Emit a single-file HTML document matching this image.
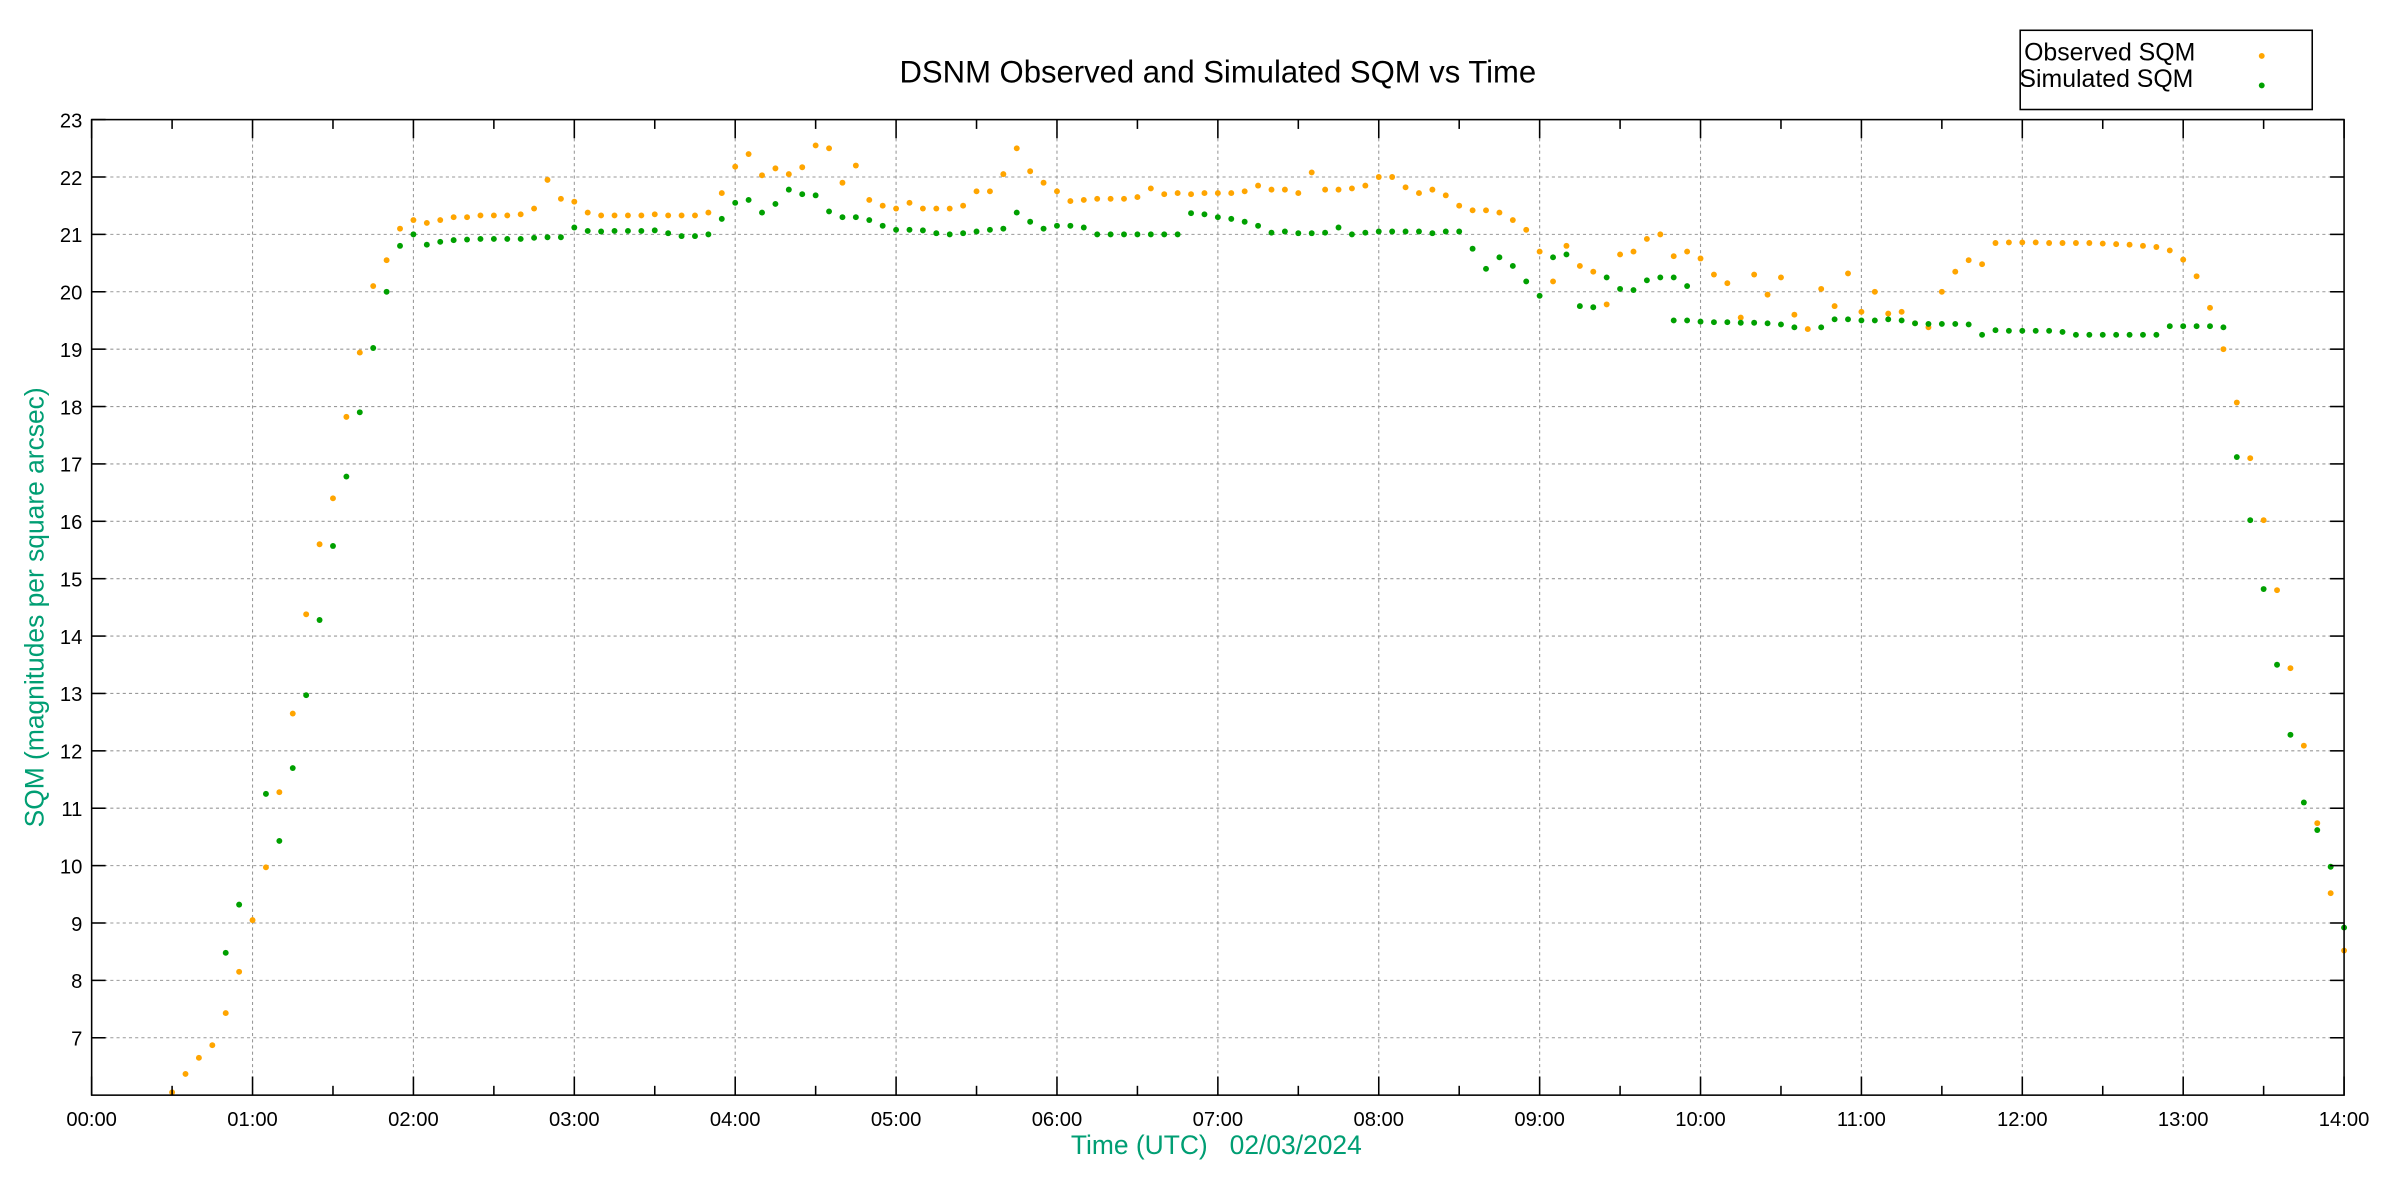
<!DOCTYPE html>
<html><head><meta charset="utf-8"><style>
html,body{margin:0;padding:0;background:#fff;}
svg{display:block;}
text{font-family:"Liberation Sans",sans-serif;}
</style></head><body>
<svg id="s" width="2400" height="1200" viewBox="0 0 1545 772.5" xmlns="http://www.w3.org/2000/svg">
<rect width="1545" height="772.5" fill="#fff"/>
<g id="grid"></g>
<g id="pts"></g>
<rect x="59" y="77" width="1450" height="628" fill="none" stroke="#000" stroke-width="1"/>
<g id="ticks"></g>
<text x="784" y="53" font-size="20" text-anchor="middle" fill="#000">DSNM Observed and Simulated SQM vs Time</text>
<text x="28" y="391" font-size="17" fill="#009e73" text-anchor="middle" transform="rotate(-90 28 391)">SQM (magnitudes per square arcsec)</text>
<text x="783" y="743" font-size="17" fill="#009e73" text-anchor="middle" xml:space="preserve">Time (UTC)   02/03/2024</text>
<rect x="1300.5" y="19.5" width="188" height="51" fill="#fff" stroke="#000" stroke-width="1"/>
<text x="1303" y="39" font-size="16" fill="#000">Observed SQM</text>
<text x="1300" y="56" font-size="16" fill="#000">Simulated SQM</text>
<circle cx="1456" cy="36" r="1.9" fill="#ffa500"/>
<circle cx="1456" cy="55" r="1.9" fill="#00a000"/>
</svg>
<script>
var L=59,R=1509,T=77,B=705;
function X(t){return L+t*(R-L)/14;}
function Y(v){return T+(23-v)*(B-T)/17;}
var ns="http://www.w3.org/2000/svg";
function el(p,n,a,txt){var e=document.createElementNS(ns,n);for(var k in a)e.setAttribute(k,a[k]);if(txt!==undefined)e.textContent=txt;document.getElementById(p).appendChild(e);return e;}
for(var h=1;h<14;h++)el("grid","line",{x1:X(h),x2:X(h),y1:T,y2:B,stroke:"#999","stroke-width":0.7,"stroke-dasharray":"2,2"});
for(var v=7;v<23;v++)el("grid","line",{x1:L,x2:R,y1:Y(v),y2:Y(v),stroke:"#999","stroke-width":0.7,"stroke-dasharray":"2,2"});
for(var h=0;h<=14;h++){var x=X(h);
 el("ticks","line",{x1:x,x2:x,y1:B,y2:B-12,stroke:"#000","stroke-width":1});
 el("ticks","line",{x1:x,x2:x,y1:T,y2:T+12,stroke:"#000","stroke-width":1});
 el("ticks","text",{x:x,y:B+20,"font-size":13,"text-anchor":"middle",fill:"#000"},(h<10?"0":"")+h+":00");
 if(h<14){var xm=X(h+0.5);
 el("ticks","line",{x1:xm,x2:xm,y1:B,y2:B-6,stroke:"#000","stroke-width":1});
 el("ticks","line",{x1:xm,x2:xm,y1:T,y2:T+6,stroke:"#000","stroke-width":1});}
}
for(var v=7;v<=23;v++){var y=Y(v);
 el("ticks","line",{x1:L,x2:L+9,y1:y,y2:y,stroke:"#000","stroke-width":1});
 el("ticks","line",{x1:R,x2:R-9,y1:y,y2:y,stroke:"#000","stroke-width":1});
 el("ticks","text",{x:L-6,y:y+5,"font-size":13,"text-anchor":"end",fill:"#000"},""+v);
}
var obs=[6.05,6.37,6.65,6.87,7.43,8.15,9.05,9.97,11.28,12.65,14.38,15.6,16.4,17.82,18.94,20.1,20.55,21.1,21.25,21.2,21.25,21.3,21.3,21.33,21.33,21.33,21.35,21.45,21.95,21.62,21.57,21.38,21.33,21.33,21.33,21.33,21.35,21.33,21.33,21.33,21.38,21.72,22.18,22.4,22.03,22.15,22.05,22.17,22.55,22.5,21.9,22.2,21.6,21.5,21.45,21.55,21.45,21.45,21.45,21.5,21.75,21.75,22.05,22.5,22.1,21.9,21.75,21.58,21.6,21.62,21.62,21.62,21.65,21.8,21.7,21.72,21.7,21.72,21.72,21.72,21.75,21.85,21.78,21.78,21.72,22.08,21.78,21.78,21.8,21.85,22.0,22.0,21.82,21.72,21.78,21.68,21.5,21.42,21.42,21.38,21.25,21.08,20.7,20.18,20.8,20.45,20.35,19.78,20.65,20.7,20.92,21.0,20.62,20.7,20.58,20.3,20.15,19.55,20.3,19.95,20.25,19.6,19.35,20.05,19.75,20.32,19.65,20.0,19.62,19.65,19.45,19.38,20.0,20.35,20.55,20.48,20.85,20.86,20.86,20.86,20.85,20.85,20.85,20.85,20.84,20.83,20.82,20.8,20.78,20.72,20.56,20.27,19.72,19.0,18.07,17.1,16.02,14.8,13.44,12.09,10.74,9.52,8.52];
for(var i=0;i<obs.length;i++)el("pts","circle",{cx:X(0.5+i/12),cy:Y(obs[i]),r:1.9,fill:"#ffa500"});
var sim1=[8.48,9.32,null,11.25,10.43,11.7,12.97,14.28,15.57,16.78,17.9,19.02,20.0,20.8,21.0,20.82,20.87,20.9,20.91,20.92,20.92,20.92,20.92,20.94,20.95,20.95,21.12,21.06,21.05,21.06,21.06,21.06,21.07,21.02,20.97,20.97,21.0,21.27,21.55,21.6,21.38,21.53,21.78,21.7,21.68,21.4,21.3,21.3,21.25,21.15,21.08,21.08,21.07,21.02,21.0,21.02,21.05,21.08,21.1,21.38,21.22,21.1,21.15,21.15,21.12,21.0,21.0,21.0,21.0,21.0,21.0,21.0,21.37,21.35,21.3,21.27,21.22,21.15,21.03,21.05,21.02,21.02,21.03,21.12,21.0,21.03,21.05,21.05,21.05,21.05,21.02,21.05,21.05,20.75,20.4,20.6,20.45,20.18,19.93,20.6,20.65,19.75,19.73,20.25,20.05,20.03,20.2,20.25,20.25,20.1];
for(var i=0;i<sim1.length;i++)if(sim1[i]!==null)el("pts","circle",{cx:X(0.8333+i/12),cy:Y(sim1[i]),r:1.9,fill:"#00a000"});
var sim2=[19.5,19.5,19.48,19.47,19.47,19.46,19.46,19.45,19.43,19.38,null,19.38,19.52,19.52,19.5,19.5,19.52,19.5,19.45,19.44,19.44,19.44,19.43,19.25,19.33,19.32,19.32,19.32,19.32,19.3,19.25,19.25,19.25,19.25,19.25,19.25,19.25,19.4,19.4,19.4,19.4,19.38,17.12,16.02,14.82,13.5,12.28,11.1,10.62,9.98,8.92];
var n=sim2.length;
for(var i=0;i<n;i++)if(sim2[i]!==null)el("pts","circle",{cx:X(14-(n-1-i)/12),cy:Y(sim2[i]),r:1.9,fill:"#00a000"});
</script>
</body></html>
